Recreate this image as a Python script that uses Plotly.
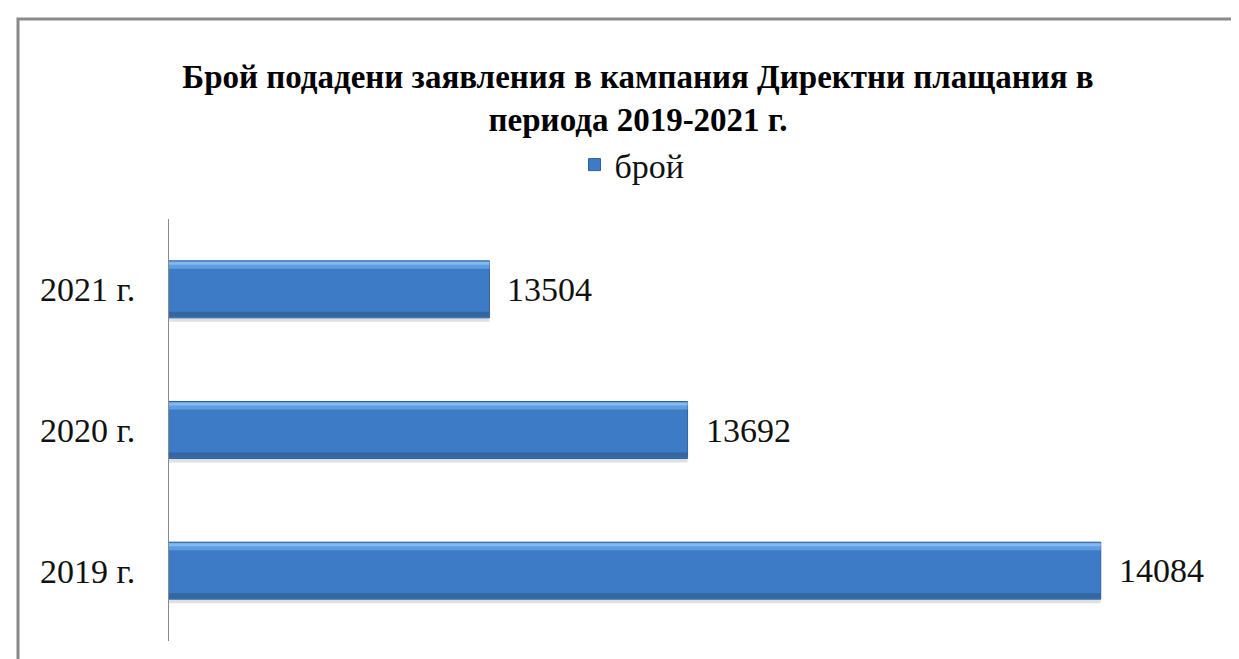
import plotly.graph_objects as go

categories = ["2019 г.", "2020 г.", "2021 г."]
values = [14084, 13692, 13504]
series_name = "брой"
title_text = "<b>Брой подадени заявления в кампания Директни плащания в<br>периода 2019-2021 г.</b>"

FONT = "'Liberation Serif', 'Times New Roman', Times, serif"
W, H = 1239, 659
L, R, T, B = 161, 24, 211, 26
PW, PH = W - L - R, H - T - B


def px_x(p):
    return (p - L) / PW


def px_y(p):
    return (H - B - p) / PH


BW = 0.405  # bar thickness in category units
px = 1.0 / 140.7  # one pixel in category units

fig = go.Figure()
# shadow
fig.add_trace(go.Bar(y=categories, x=values, orientation="h", width=4 * px,
                     offset=-BW / 2 - 4 * px, marker=dict(color="rgba(0,0,0,0.12)", line=dict(width=0)),
                     showlegend=False, hoverinfo="skip"))
# main bar
fig.add_trace(go.Bar(y=categories, x=values, orientation="h", name=series_name, width=BW,
                     marker=dict(color="#3e7bc6", line=dict(color="#2f609e", width=1)),
                     showlegend=True))
# top highlight
fig.add_trace(go.Bar(y=categories, x=values, orientation="h", width=7 * px,
                     offset=BW / 2 - 8 * px, marker=dict(color="#5f9de0", line=dict(width=0)),
                     showlegend=False, hoverinfo="skip"))
fig.add_trace(go.Bar(y=categories, x=values, orientation="h", width=3 * px,
                     offset=BW / 2 - 4 * px, marker=dict(color="#82b9ef", line=dict(width=0)),
                     showlegend=False, hoverinfo="skip"))
# bottom shade
fig.add_trace(go.Bar(y=categories, x=values, orientation="h", width=5 * px,
                     offset=-BW / 2 + 1 * px, marker=dict(color="#34669f", line=dict(width=0)),
                     showlegend=False, hoverinfo="skip"))

for c, v in zip(categories, values):
    fig.add_annotation(x=v, y=c, xref="x", yref="y", text=str(v), showarrow=False,
                       xanchor="left", yanchor="middle", xshift=16,
                       font=dict(family=FONT, size=34, color="#111111"))

fig.update_layout(
    width=W, height=H,
    margin=dict(l=L, r=R, t=T, b=B),
    paper_bgcolor="white", plot_bgcolor="white",
    barmode="overlay",
    title=dict(text=title_text, x=630 / W, xanchor="center", y=1 - 80 / H, yanchor="middle",
               xref="container", yref="container",
               font=dict(family=FONT, size=33, color="black")),
    legend=dict(orientation="h", xref="container", yref="container", x=624 / W, xanchor="center",
                y=1 - 157 / H, yanchor="middle", font=dict(family=FONT, size=34, color="#111111"),
                itemwidth=30),
    xaxis=dict(range=[13200, 14200], visible=False, fixedrange=True),
    yaxis=dict(showline=True, linecolor="#8a8a8a", linewidth=1, ticks="", showgrid=False,
               zeroline=False, ticklabelstandoff=26, range=[-0.5, 2.5],
               tickfont=dict(family=FONT, size=34, color="#111111")),
    showlegend=True,
)

# outer frame (top and left visible, rest cropped)
fig.add_shape(type="rect", xref="paper", yref="paper",
              x0=px_x(10), x1=px_x(W + 6), y0=px_y(H + 6), y1=px_y(11),
              line=dict(color="#8a8a8a", width=3), fillcolor="rgba(0,0,0,0)", layer="below")

fig.write_html("out.html")
